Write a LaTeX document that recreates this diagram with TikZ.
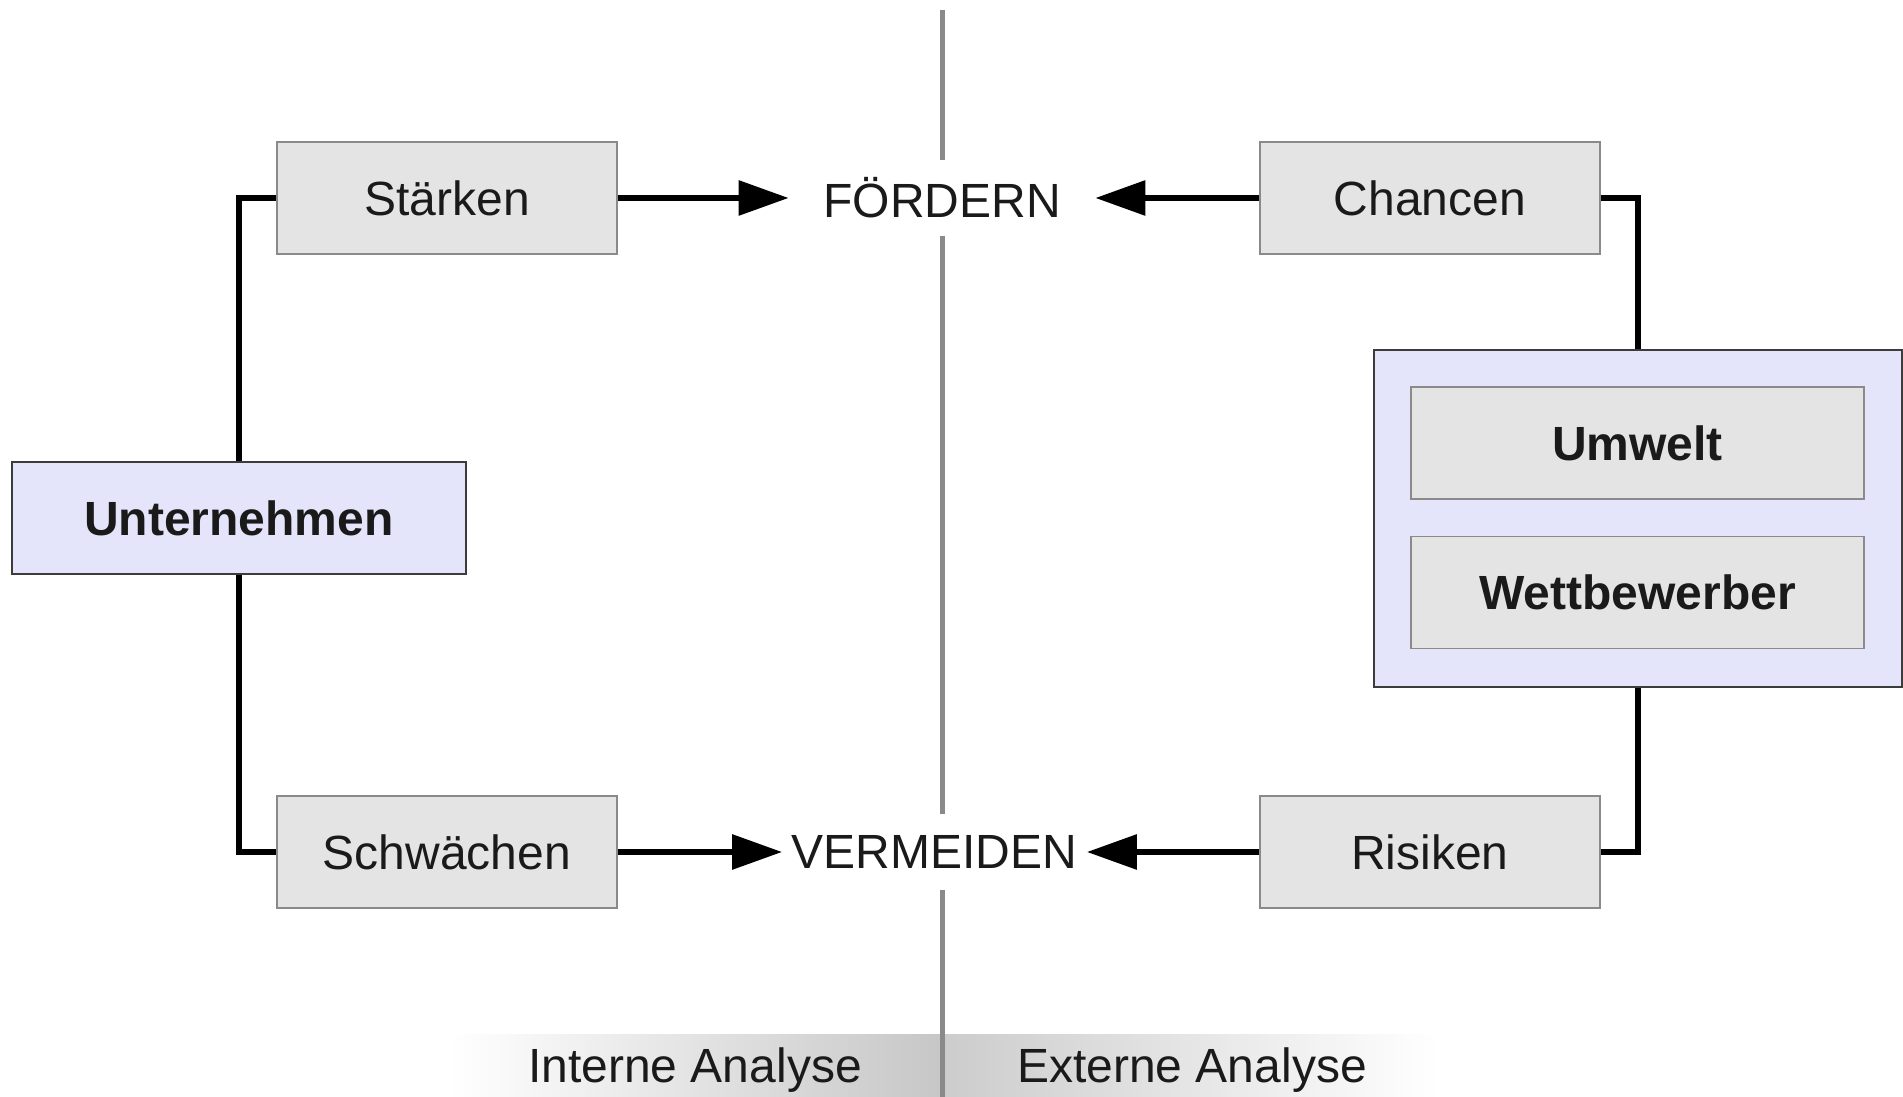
\documentclass[tikz,border=0pt]{standalone}
\usepackage{fontspec}
\setmainfont{Liberation Sans}
\usetikzlibrary{arrows.meta,positioning}
\definecolor{boxgray}{HTML}{E4E4E4}
\definecolor{boxedge}{HTML}{8A8A8A}
\definecolor{lav}{HTML}{E4E4FA}
\definecolor{ink}{HTML}{1A1A1A}
\definecolor{divider}{HTML}{8A8A8A}
\begin{document}
\begin{tikzpicture}[x=1pt,y=1pt,
  every node/.style={text=ink,font=\fontsize{48pt}{56pt}\selectfont},
  graybox/.style={draw=boxedge,fill=boxgray,line width=1.5pt,minimum width=340pt,minimum height=112pt,inner sep=0pt},
  widebox/.style={graybox,minimum width=453pt,font=\fontsize{48pt}{56pt}\selectfont\bfseries},
  lavbox/.style={draw=ink!85,fill=lav,line width=1.5pt,inner sep=0pt},
  conn/.style={line width=5.5pt,line join=miter},
  pointer/.style={line width=6pt,-{Triangle[length=50pt,width=34pt]}},
  sep/.style={draw=divider,line width=5pt}
]
\useasboundingbox (0,0) rectangle (1903,1097);

% bottom band with the two analysis labels
\shade[left color=white,right color=black!22] (449,0) rectangle (942,62);
\shade[left color=black!20,right color=white] (942,0) rectangle (1438,62);
\node[anchor=base] (intern) at (695,14) {Interne Analyse};
\node[anchor=base] (extern) at (1192,14) {Externe Analyse};

% dividing line between internal and external side
\coordinate (d0) at (942,1087);
\coordinate (d1) at (942,937);
\coordinate (d2) at (942,861);
\coordinate (d3) at (942,283);
\coordinate (d4) at (942,207);
\coordinate (d5) at (942,0);
\draw[sep] (d0) -- (d1);
\draw[sep] (d2) -- (d3);
\draw[sep] (d4) -- (d5);

% boxes
\node[graybox] (staerken) at (447,899) {Stärken};
\node[graybox] (schwaechen) at (447,245) {Schwächen};
\node[graybox] (chancen) at (1430,899) {Chancen};
\node[graybox] (risiken) at (1430,245) {Risiken};
\node[lavbox,minimum width=454pt,minimum height=112pt,font=\fontsize{48pt}{56pt}\selectfont\bfseries] (unt) at (239,579) {Unternehmen};
\node[lavbox,minimum width=528pt,minimum height=337pt] (umfeld) at (1638,578.5) {};
\node[widebox] (umwelt) at (1637.5,654) {Umwelt};
\node[widebox] (wettb) at (1637.5,504.5) {Wettbewerber};

% outcome labels
\node[inner xsep=34.5pt,inner ysep=0pt] (foerdern) at (942,899) {FÖRDERN};
\node[inner xsep=9.5pt,inner ysep=0pt] (vermeiden) at (934.5,245) {VERMEIDEN};

% connectors
\draw[conn] (unt.north) |- (staerken.west);
\draw[conn] (unt.south) |- (schwaechen.west);
\draw[conn] (chancen.east) -| (umfeld.north);
\draw[conn] (risiken.east) -| (umfeld.south);

% arrows
\draw[pointer] (staerken.east) -- (foerdern.west);
\draw[pointer] (chancen.west) -- (foerdern.east);
\draw[pointer] (schwaechen.east) -- (vermeiden.west);
\draw[pointer] (risiken.west) -- (vermeiden.east);
\end{tikzpicture}
\end{document}
